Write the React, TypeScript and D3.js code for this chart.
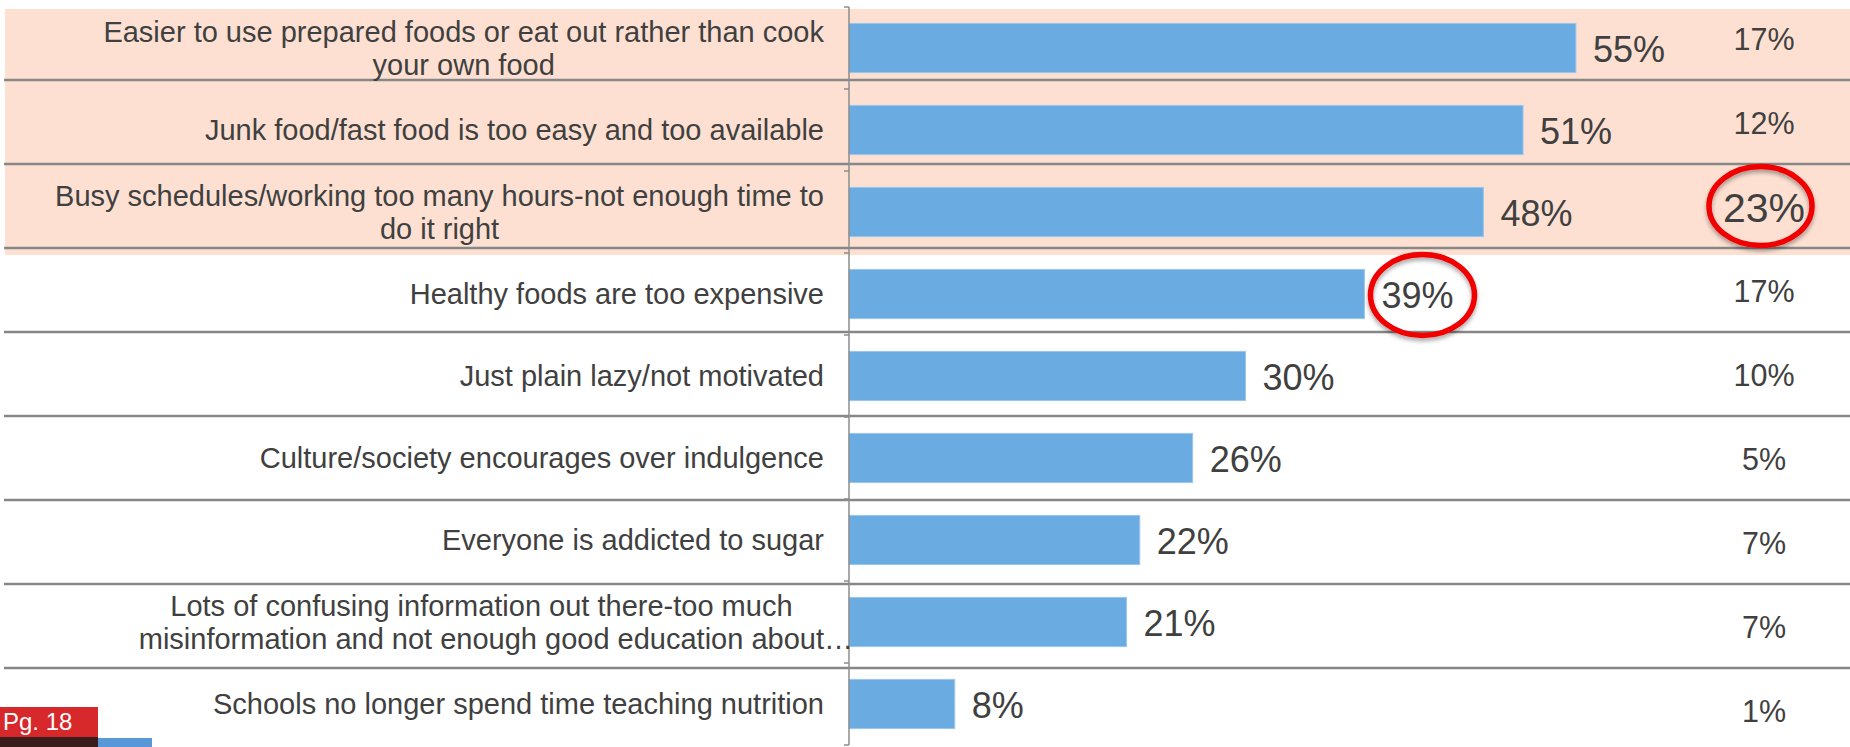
import React from 'react';
import * as d3 from 'd3';

// ---------- data ----------
const categories: string[] = [
  'Easier to use prepared foods or eat out rather than cook\nyour own food',
  'Junk food/fast food is too easy and too available',
  'Busy schedules/working too many hours-not enough time to\ndo it right',
  'Healthy foods are too expensive',
  'Just plain lazy/not motivated',
  'Culture/society encourages over indulgence',
  'Everyone is addicted to sugar',
  'Lots of confusing information out there-too much\nmisinformation and not enough good education about…',
  'Schools no longer spend time teaching nutrition',
];
const values: number[] = [55, 51, 48, 39, 30, 26, 22, 21, 8];
const secondValues: number[] = [17, 12, 23, 17, 10, 5, 7, 7, 1];
const circledValueRows: number[] = [3];
const circledSecondRows: number[] = [2];
const highlightedRows: number[] = [0, 1, 2];
const pageLabel = 'Pg. 18';

// ---------- layout ----------
const W = 1850;
const H = 747;
const FONT = '"Liberation Sans", Arial, Helvetica, sans-serif';
const TEXT = '#404040';
const BAR = '#6aace2';
const AXIS = '#8c8c8c';
const SEP = '#878787';
const PEACH = '#fde0d2';
const RED = '#f00000';

const axisX = 849;
const labelRight = 824;
const labelSize = 29;
const labelLH = 33;
const valueSize = 36;
const secondSize = 30.5;
const secondBigSize = 41;
const secondX = 1764;

let ctx: CanvasRenderingContext2D | null = null;
function measure(text: string, size: number): number {
  if (!ctx) ctx = document.createElement('canvas').getContext('2d');
  if (!ctx) return text.length * size * 0.5;
  ctx.font = `${size}px "Liberation Sans", Arial, sans-serif`;
  return ctx.measureText(text).width;
}

export default function App() {
  const y = d3
    .scaleBand<string>()
    .domain(categories)
    .range([7, 745])
    .paddingInner(0.4)
    .paddingOuter(0.2);
  const x = d3.scaleLinear().domain([0, 60]).range([axisX, axisX + 793]);
  const table = d3.scaleBand<string>().domain(categories).range([-4, 752]).padding(0);
  const step = y.step();
  const tickYs = d3.range(categories.length + 1).map((i) => y.range()[0] + i * step);

  const hiTop = 9;
  const hiBottom = table(categories[highlightedRows[highlightedRows.length - 1]])! + table.bandwidth() + 7;

  return (
    <svg
      width={W}
      height={H}
      viewBox={`0 0 ${W} ${H}`}
      style={{ position: 'fixed', left: 0, top: 0, display: 'block', background: '#fff' }}
      fontFamily={FONT}
    >
      <defs>
        <filter id="shadow" x="-30%" y="-30%" width="160%" height="170%">
          <feDropShadow dx="0" dy="3" stdDeviation="2.2" floodColor="#000" floodOpacity="0.35" />
        </filter>
      </defs>

      {/* highlighted rows background */}
      <rect x={5} y={hiTop} width={W - 5} height={hiBottom - hiTop} fill={PEACH} />

      {/* table separators */}
      {categories.slice(0, -1).map((c, i) => {
        const yy = table(c)! + table.bandwidth();
        return <line key={'sep' + i} x1={4} x2={W} y1={yy} y2={yy} stroke={SEP} strokeWidth={2.5} />;
      })}

      {/* bars */}
      {categories.map((c, i) => (
        <rect
          key={'bar' + i}
          x={x(0)}
          y={y(c)}
          width={x(values[i]) - x(0)}
          height={y.bandwidth()}
          fill={BAR}
          stroke="#9cc6ec"
          strokeWidth={1}
        />
      ))}

      {/* axis */}
      <line x1={axisX} x2={axisX} y1={tickYs[0]} y2={tickYs[tickYs.length - 1]} stroke={AXIS} strokeWidth={1.5} />
      {tickYs.map((t, i) => (
        <line key={'tick' + i} x1={axisX - 5} x2={axisX} y1={t} y2={t} stroke={AXIS} strokeWidth={1.5} />
      ))}

      {/* category labels */}
      {categories.map((c, i) => {
        const lines = c.split('\n');
        const widths = lines.map((l) => measure(l.replace(/…$/, ''), labelSize));
        const maxW = Math.max(...widths);
        const center = labelRight - maxW / 2;
        const cy = y(c)! + y.bandwidth() / 2;
        const first = cy - ((lines.length - 1) * labelLH) / 2;
        return (
          <text key={'lab' + i} fontSize={labelSize} fill={TEXT}>
            {lines.map((l, j) => (
              <tspan key={j} x={center - widths[j] / 2} y={first + j * labelLH} dy="0.35em">
                {l}
              </tspan>
            ))}
          </text>
        );
      })}

      {/* value labels */}
      {categories.map((c, i) => {
        const cy = y(c)! + y.bandwidth() / 2;
        const tx = x(values[i]) + 17;
        const label = `${values[i]}%`;
        const w = measure(label, valueSize);
        return (
          <g key={'val' + i}>
            <text x={tx} y={cy + 1} dy="0.35em" fontSize={valueSize} fill={TEXT}>
              {label}
            </text>
            {circledValueRows.includes(i) && (
              <ellipse
                cx={tx + w / 2 + 5}
                cy={cy + 1}
                rx={52}
                ry={40.5}
                fill="none"
                stroke={RED}
                strokeWidth={5.5}
                filter="url(#shadow)"
              />
            )}
          </g>
        );
      })}

      {/* second column values */}
      {categories.map((c, i) => {
        const big = circledSecondRows.includes(i);
        const cy = table(c)! + table.bandwidth() / 2 + 1;
        const size = big ? secondBigSize : secondSize;
        return (
          <g key={'sec' + i}>
            <text x={secondX} y={big ? cy + 1 : cy} dy="0.35em" fontSize={size} fill={TEXT} textAnchor="middle">
              {`${secondValues[i]}%`}
            </text>
            {big && (
              <ellipse
                cx={secondX - 3.5}
                cy={cy - 1}
                rx={51.5}
                ry={39.5}
                fill="none"
                stroke={RED}
                strokeWidth={5.5}
                filter="url(#shadow)"
              />
            )}
          </g>
        );
      })}

      {/* page tag */}
      <rect x={0} y={707} width={98} height={30} fill="#d7282b" />
      <rect x={0} y={737} width={98} height={10} fill="#3a1c1d" />
      <rect x={98} y={738} width={54} height={9} fill="#5a97d8" />
      <text x={3} y={722} dy="0.35em" fontSize={24} fill="#ffffff">
        {pageLabel}
      </text>
    </svg>
  );
}
